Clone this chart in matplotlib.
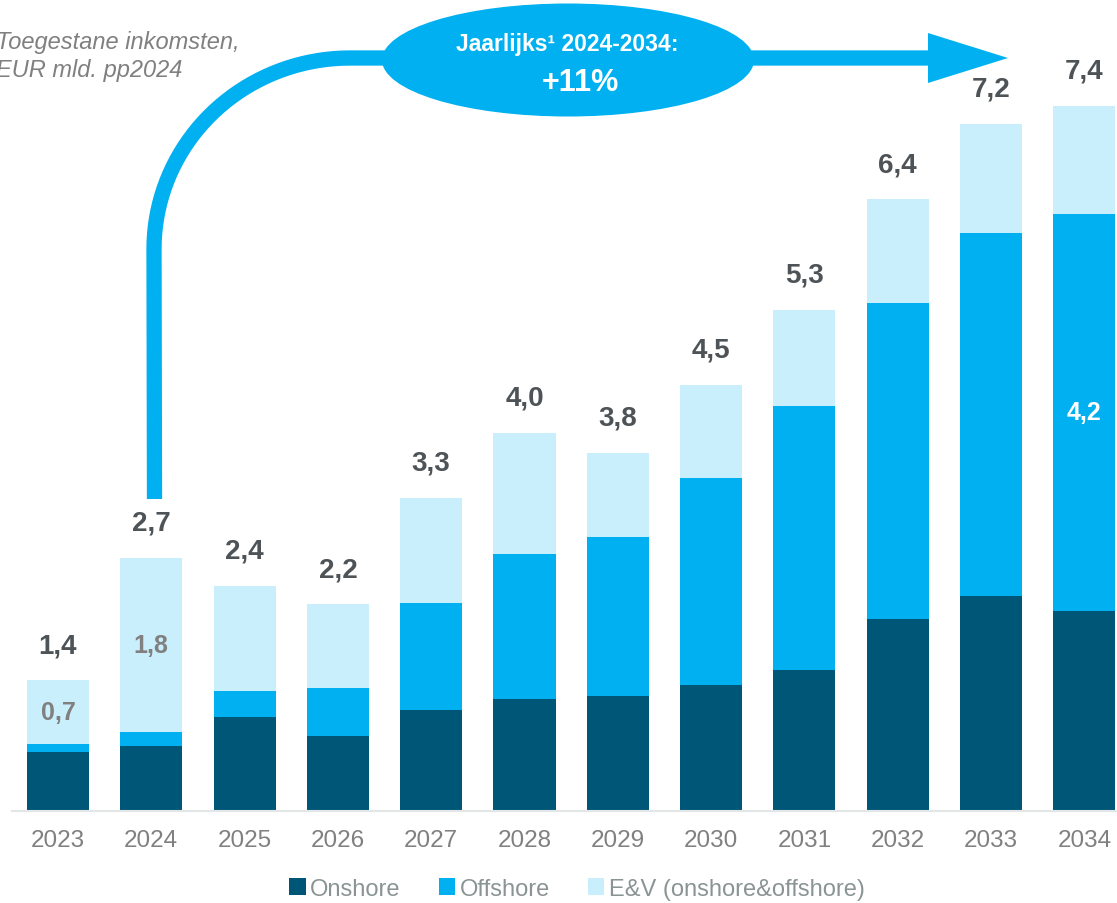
import numpy as np
import matplotlib.pyplot as plt
from matplotlib.patches import Ellipse, Polygon, PathPatch
from matplotlib.path import Path

# === Données ===
jaren = ["2023", "2024", "2025", "2026", "2027", "2028",
         "2029", "2030", "2031", "2032", "2033", "2034"]
onshore = [0.62, 0.68, 0.99, 0.79, 1.06, 1.18, 1.21, 1.32, 1.48, 2.02, 2.26, 2.10]
offshore = [0.08, 0.15, 0.27, 0.50, 1.12, 1.52, 1.67, 2.18, 2.77, 3.31, 3.81, 4.17]
ev = [0.67, 1.83, 1.10, 0.88, 1.11, 1.27, 0.88, 0.97, 1.01, 1.09, 1.14, 1.13]
series_names = ["Onshore", "Offshore", "E&V (onshore&offshore)"]

# === Stijl ===
c_on = "#005677"
c_off = "#00B0F0"
c_ev = "#C9EFFD"
c_tot = "#4d5356"
c_grey = "#808080"

plt.rcParams['font.family'] = ['Liberation Sans', 'DejaVu Sans']

W, H = 1117, 904
fig = plt.figure(figsize=(W / 100, H / 100), dpi=100)

# hoofdas: basislijn op y=812 px, 95.27 px per eenheid
ax = fig.add_axes([12 / W, (H - 812) / H, (W - 12) / W, 812 / H])
x = np.arange(len(jaren))
bw = 0.665
on = np.array(onshore)
off = np.array(offshore)
e = np.array(ev)
ax.bar(x, on, bw, color=c_on, label=series_names[0], zorder=2)
ax.bar(x, off, bw, bottom=on, color=c_off, label=series_names[1], zorder=2)
ax.bar(x, e, bw, bottom=on + off, color=c_ev, label=series_names[2], zorder=2)

ax.set_xlim(-0.493, 11.35)
ax.set_ylim(0, 812 / 95.27)

for s in ["top", "right", "left"]:
    ax.spines[s].set_visible(False)
ax.spines["bottom"].set_color("#e2e6e6")
ax.spines["bottom"].set_linewidth(1.5)
ax.set_yticks([])
ax.set_xticks(x)
ax.set_xticklabels(jaren, fontsize=17.5, color=c_grey)
ax.tick_params(axis="x", length=0, pad=13)

fmt = lambda v: f"{v:.1f}".replace(".", ",")

totaal = on + off + e
for i, t in enumerate(totaal):
    ax.annotate(fmt(t), (x[i], t), xytext=(0, 16), textcoords="offset points",
                ha="center", va="bottom", fontsize=20, fontweight="bold",
                color=c_tot, zorder=5)

# labels binnen de staven
ax.text(x[0], on[0] + off[0] + e[0] / 2, fmt(e[0]), ha="center", va="center",
        fontsize=18, fontweight="bold", color=c_grey, zorder=5)
ax.text(x[1], on[1] + off[1] + e[1] / 2, fmt(e[1]), ha="center", va="center",
        fontsize=18, fontweight="bold", color=c_grey, zorder=5)
ax.text(x[11], on[11] + off[11] / 2, fmt(off[11]), ha="center", va="center",
        fontsize=18, fontweight="bold", color="white", zorder=5)

# === Pijl en ellips (overlay in pixels) ===
ov = fig.add_axes([0, 0, 1, 1], zorder=3)
ov.set_xlim(0, W)
ov.set_ylim(H, 0)
ov.axis("off")
ov.patch.set_alpha(0)

cx, cy, r_x, r_y = 350, 250, 196, 191
theta = np.linspace(np.pi, np.pi * 1.5, 40)
arc_x = cx + r_x * np.cos(theta)
arc_y = cy + r_y * np.sin(theta)
pts = [(154.5, 500)] + list(zip(arc_x, arc_y)) + [(932, 59)]
ov.add_patch(PathPatch(Path(pts), fill=False, edgecolor=c_off, lw=11,
                       capstyle="butt", joinstyle="round"))
ov.add_patch(Polygon([(928, 34), (1008, 59), (928, 84)], closed=True,
                     facecolor=c_off, edgecolor="none"))
ov.add_patch(Ellipse((568, 61), 372, 113, facecolor=c_off, edgecolor="none"))
ov.text(567, 45, "Jaarlijks¹ 2024-2034:", ha="center", va="center",
        fontsize=16.5, fontweight="bold", color="white")
ov.text(580, 83, "+11%", ha="center", va="center",
        fontsize=22, fontweight="bold", color="white")

# titel
ov.text(-4, 43, "Toegestane inkomsten,", ha="left", va="center",
        fontsize=17, style="italic", color=c_grey)
ov.text(-4, 71, "EUR mld. pp2024", ha="left", va="center",
        fontsize=17, style="italic", color=c_grey)

# legenda
fig.legend(loc="center", bbox_to_anchor=(577 / W, 1 - 890 / H), ncol=3,
           frameon=False, fontsize=17, handlelength=0.7, handleheight=0.7,
           handletextpad=0.2, columnspacing=1.6, labelcolor="#8a9494")

fig.savefig("out.png", dpi=100)
